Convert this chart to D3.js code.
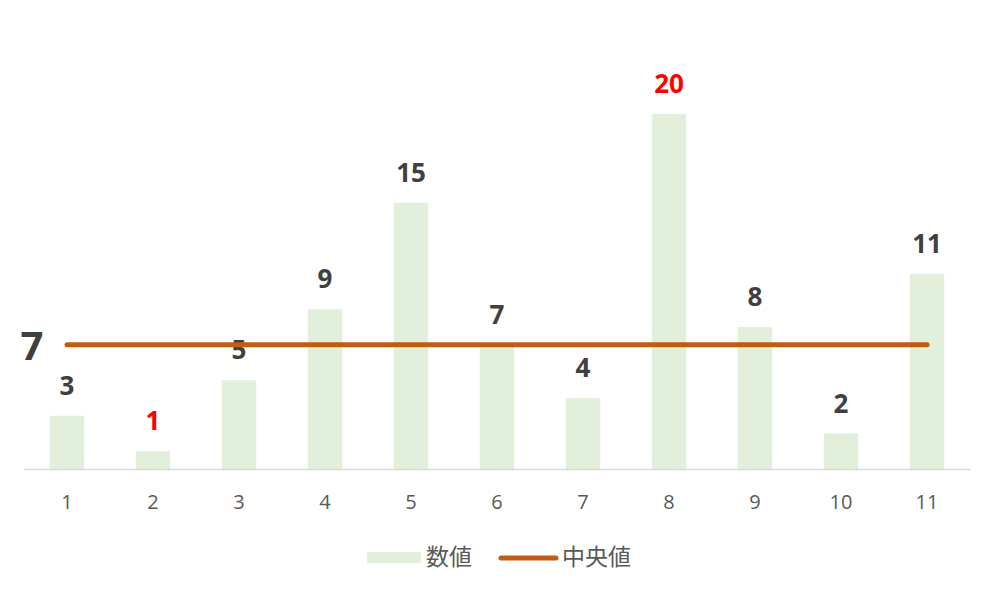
<!DOCTYPE html>
<html>
<head>
<meta charset="utf-8">
<script src="https://cdn.jsdelivr.net/npm/d3@7"></script>
<style>
  body { margin: 0; background: #fff; }
  svg text { font-family: "Open Sans", "Noto Sans CJK JP", sans-serif; }
</style>
</head>
<body>
<div id="chart"></div>
<script>
// chart data
var categories = ['1','2','3','4','5','6','7','8','9','10','11'];
var values = [3, 1, 5, 9, 15, 7, 4, 20, 8, 2, 11];
var medianValues = [7, 7, 7, 7, 7, 7, 7, 7, 7, 7, 7];
var highlight = ['2', '8']; // min and max labelled in red
var legendLabels = ['数値', '中央値'];

var width = 1000, height = 596;

var svg = d3.select('#chart')
	.append('svg')
	.attr('width', width)
	.attr('height', height);

var x = d3.scaleBand()
	.domain(categories)
	.range([24, 970])
	.paddingInner(0.6)
	.paddingOuter(0.3);

var y = d3.scaleLinear()
	.domain([0, 20])
	.range([469, 114]);

// bars
svg.selectAll('rect.bar')
	.data(values)
	.enter()
	.append('rect')
	.attr('class', 'bar')
	.attr('x', function(d, i){ return x(categories[i]); })
	.attr('y', function(d){ return y(d); })
	.attr('width', x.bandwidth())
	.attr('height', function(d){ return y(0) - y(d); })
	.style('fill', '#e2efda');

// axis
var xAxis = svg.append('g')
	.attr('transform', 'translate(0,' + y(0) + ')')
	.call(d3.axisBottom(x).tickSize(0).tickPadding(26));

xAxis.select('.domain')
	.style('stroke', '#d9d9d9')
	.style('stroke-width', '1.5px');

xAxis.selectAll('text')
	.style('font-size', '20px')
	.style('fill', '#595959')
	.style('font-family', '"Open Sans", sans-serif');

// value labels
svg.selectAll('text.val')
	.data(values)
	.enter()
	.append('text')
	.attr('class', 'val')
	.attr('x', function(d, i){ return x(categories[i]) + x.bandwidth() / 2; })
	.attr('y', function(d){ return y(d) - 21; })
	.attr('text-anchor', 'middle')
	.style('font-size', '26px')
	.style('font-weight', 'bold')
	.style('fill', function(d, i){ return highlight.indexOf(categories[i]) >= 0 ? '#ff0000' : '#404040'; })
	.text(function(d){ return d; });

// median line
var line = d3.line()
	.x(function(d, i){ return x(categories[i]) + x.bandwidth() / 2; })
	.y(function(d){ return y(d); });

svg.append('path')
	.datum(medianValues)
	.attr('d', line)
	.style('fill', 'none')
	.style('stroke', '#c55a11')
	.style('stroke-width', '5px')
	.style('stroke-linecap', 'round');

svg.append('text')
	.attr('x', 32)
	.attr('y', y(medianValues[0]) + 15)
	.attr('text-anchor', 'middle')
	.style('font-size', '40px')
	.style('font-weight', 'bold')
	.style('fill', '#404040')
	.text(medianValues[0]);

// legend
var legend = svg.append('g');

legend.append('rect')
	.attr('x', 367)
	.attr('y', 552)
	.attr('width', 54)
	.attr('height', 11)
	.style('fill', '#e2efda');

legend.append('text')
	.attr('x', 426)
	.attr('y', 565)
	.style('font-size', '23px')
	.style('fill', '#595959')
	.text(legendLabels[0]);

legend.append('line')
	.attr('x1', 501)
	.attr('x2', 556)
	.attr('y1', 558)
	.attr('y2', 558)
	.style('stroke', '#c55a11')
	.style('stroke-width', '5px')
	.style('stroke-linecap', 'round');

legend.append('text')
	.attr('x', 562)
	.attr('y', 565)
	.style('font-size', '23px')
	.style('fill', '#595959')
	.text(legendLabels[1]);
</script>
</body>
</html>
